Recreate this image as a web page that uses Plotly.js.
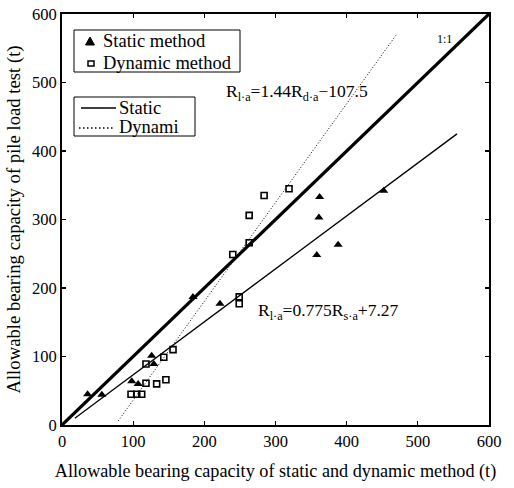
<!DOCTYPE html>
<html>
<head>
<meta charset="utf-8">
<script src="https://cdn.plot.ly/plotly-3.0.1.min.js"></script>
<style>html,body{margin:0;padding:0;background:#fff;}#chart{width:514px;height:488px;}</style>
</head>
<body>
<div id="chart"></div>
<script>
// Static method points
const staticX = [36, 56, 98, 107, 126, 129, 184, 222, 362, 361, 388, 358, 452];
const staticY = [45, 44, 64, 60, 101, 89, 187, 177, 333, 303, 263, 248, 342];
// Dynamic method points
const dynamicX = [97, 105, 112, 118, 133, 146, 118, 143, 156, 249, 249, 240, 263, 263, 284, 319];
const dynamicY = [45, 45, 45, 61, 60, 66, 89, 99, 110, 187, 177, 249, 266, 306, 335, 345];
// Regression lines (end points)
const staticLineX = [18, 555];
const staticLineY = [10, 425];
const dynamicLineX = [79, 470];
const dynamicLineY = [6, 570];
// 1:1 line
const oneX = [0, 600];
const oneY = [0, 600];
const tickVals = [0, 100, 200, 300, 400, 500, 600];
const legendMarkerNames = ['Static method', 'Dynamic method'];
const legendLineNames = ['Static', 'Dynami'];

const fam = 'Liberation Serif, Times New Roman, serif';
const tickFont = {family: fam, size: 16.5, color: '#000'};
const xTitleFont = {family: fam, size: 18.2, color: '#000'};
const yTitleFont = {family: fam, size: 18.7, color: '#000'};
const legFont = {family: fam, size: 18.5, color: '#000'};
const eqFont = {family: fam, size: 17.5, color: '#000'};

// plot-area geometry (for legend boxes drawn in paper coords)
const W = 514, H = 488, M = {l: 62, r: 25, t: 14, b: 63};
const pw = W - M.l - M.r, ph = H - M.t - M.b;
const px = v => (v - M.l) / pw;
const py = v => (H - M.b - v) / ph;

const dynDash = '1px,2px';

const traces = [
  {x: oneX, y: oneY, mode: 'lines', line: {color: '#000', width: 3.2}, showlegend: false, hoverinfo: 'skip'},
  {x: staticLineX, y: staticLineY, mode: 'lines', name: legendLineNames[0], line: {color: '#000', width: 1.3}, showlegend: false},
  {x: dynamicLineX, y: dynamicLineY, mode: 'lines', name: legendLineNames[1], line: {color: '#000', width: 1, dash: dynDash}, showlegend: false},
  {x: staticX, y: staticY, mode: 'markers', name: legendMarkerNames[0], marker: {symbol: 'triangle-up', size: 8, color: '#000'}, showlegend: false},
  {x: dynamicX, y: dynamicY, mode: 'markers', name: legendMarkerNames[1], marker: {symbol: 'square-open', size: 6, color: '#000', line: {width: 1.6, color: '#000'}}, showlegend: false}
];

const axisCommon = {
  range: [0, 600], tickvals: tickVals, ticks: 'inside', ticklen: 4, tickwidth: 1.2, tickcolor: '#000',
  showline: true, linecolor: '#000', linewidth: 2, mirror: 'ticks', showgrid: false, zeroline: false,
  tickfont: tickFont
};

const shapes = [
  // legend 1 box
  {type: 'rect', xref: 'paper', yref: 'paper', x0: px(74), x1: px(240), y0: py(72), y1: py(30), line: {color: '#000', width: 1}, fillcolor: '#fff', layer: 'above'},
  // triangle symbol
  {type: 'path', xref: 'paper', yref: 'paper', path: `M ${px(85.5)} ${py(45)} L ${px(94.5)} ${py(45)} L ${px(90)} ${py(37)} Z`, fillcolor: '#000', line: {color: '#000', width: 1}, layer: 'above'},
  // square symbol
  {type: 'rect', xref: 'paper', yref: 'paper', x0: px(88), x1: px(94), y0: py(66), y1: py(61), line: {color: '#000', width: 1.5}, fillcolor: 'rgba(0,0,0,0)', layer: 'above'},
  // legend 2 box
  {type: 'rect', xref: 'paper', yref: 'paper', x0: px(74), x1: px(195), y0: py(136), y1: py(97), line: {color: '#000', width: 1}, fillcolor: '#fff', layer: 'above'},
  {type: 'line', xref: 'paper', yref: 'paper', x0: px(81), x1: px(116), y0: py(108), y1: py(108), line: {color: '#000', width: 1.3}, layer: 'above'},
  {type: 'line', xref: 'paper', yref: 'paper', x0: px(79), x1: px(115), y0: py(128), y1: py(128), line: {color: '#000', width: 1.3, dash: '1.5px,2.5px'}, layer: 'above'}
];

const legAnn = (t, xpx, ypx) => ({x: px(xpx), y: py(ypx), xref: 'paper', yref: 'paper', xanchor: 'left', yanchor: 'middle', showarrow: false, font: legFont, text: t});

const layout = {
  width: W, height: H,
  margin: M,
  paper_bgcolor: '#fff', plot_bgcolor: '#fff',
  font: tickFont,
  showlegend: false,
  xaxis: Object.assign({}, axisCommon, {title: {text: 'Allowable bearing capacity of static and dynamic method (t)', font: xTitleFont, standoff: 14}}),
  yaxis: Object.assign({}, axisCommon, {title: {text: 'Allowable bearing capacity of pile load test (t)', font: yTitleFont, standoff: 6}}),
  shapes: shapes,
  annotations: [
    legAnn(legendMarkerNames[0], 101, 41),
    legAnn(legendMarkerNames[1], 101, 63),
    legAnn(legendLineNames[0], 117, 108),
    legAnn(legendLineNames[1], 117, 127),
    {x: 228, y: 486, xref: 'x', yref: 'y', xanchor: 'left', showarrow: false, font: eqFont,
     text: 'R<sub>l·a</sub>=1.44R<sub>d·a</sub>−107.5'},
    {x: 273, y: 166, xref: 'x', yref: 'y', xanchor: 'left', showarrow: false, font: eqFont,
     text: 'R<sub>l·a</sub>=0.775R<sub>s·a</sub>+7.27'},
    {x: 538, y: 563, xref: 'x', yref: 'y', xanchor: 'center', showarrow: false, font: {family: fam, size: 12, color: '#000'},
     text: '1:1'}
  ]
};

Plotly.newPlot('chart', traces, layout, {displayModeBar: false, staticPlot: true});
</script>
</body>
</html>
